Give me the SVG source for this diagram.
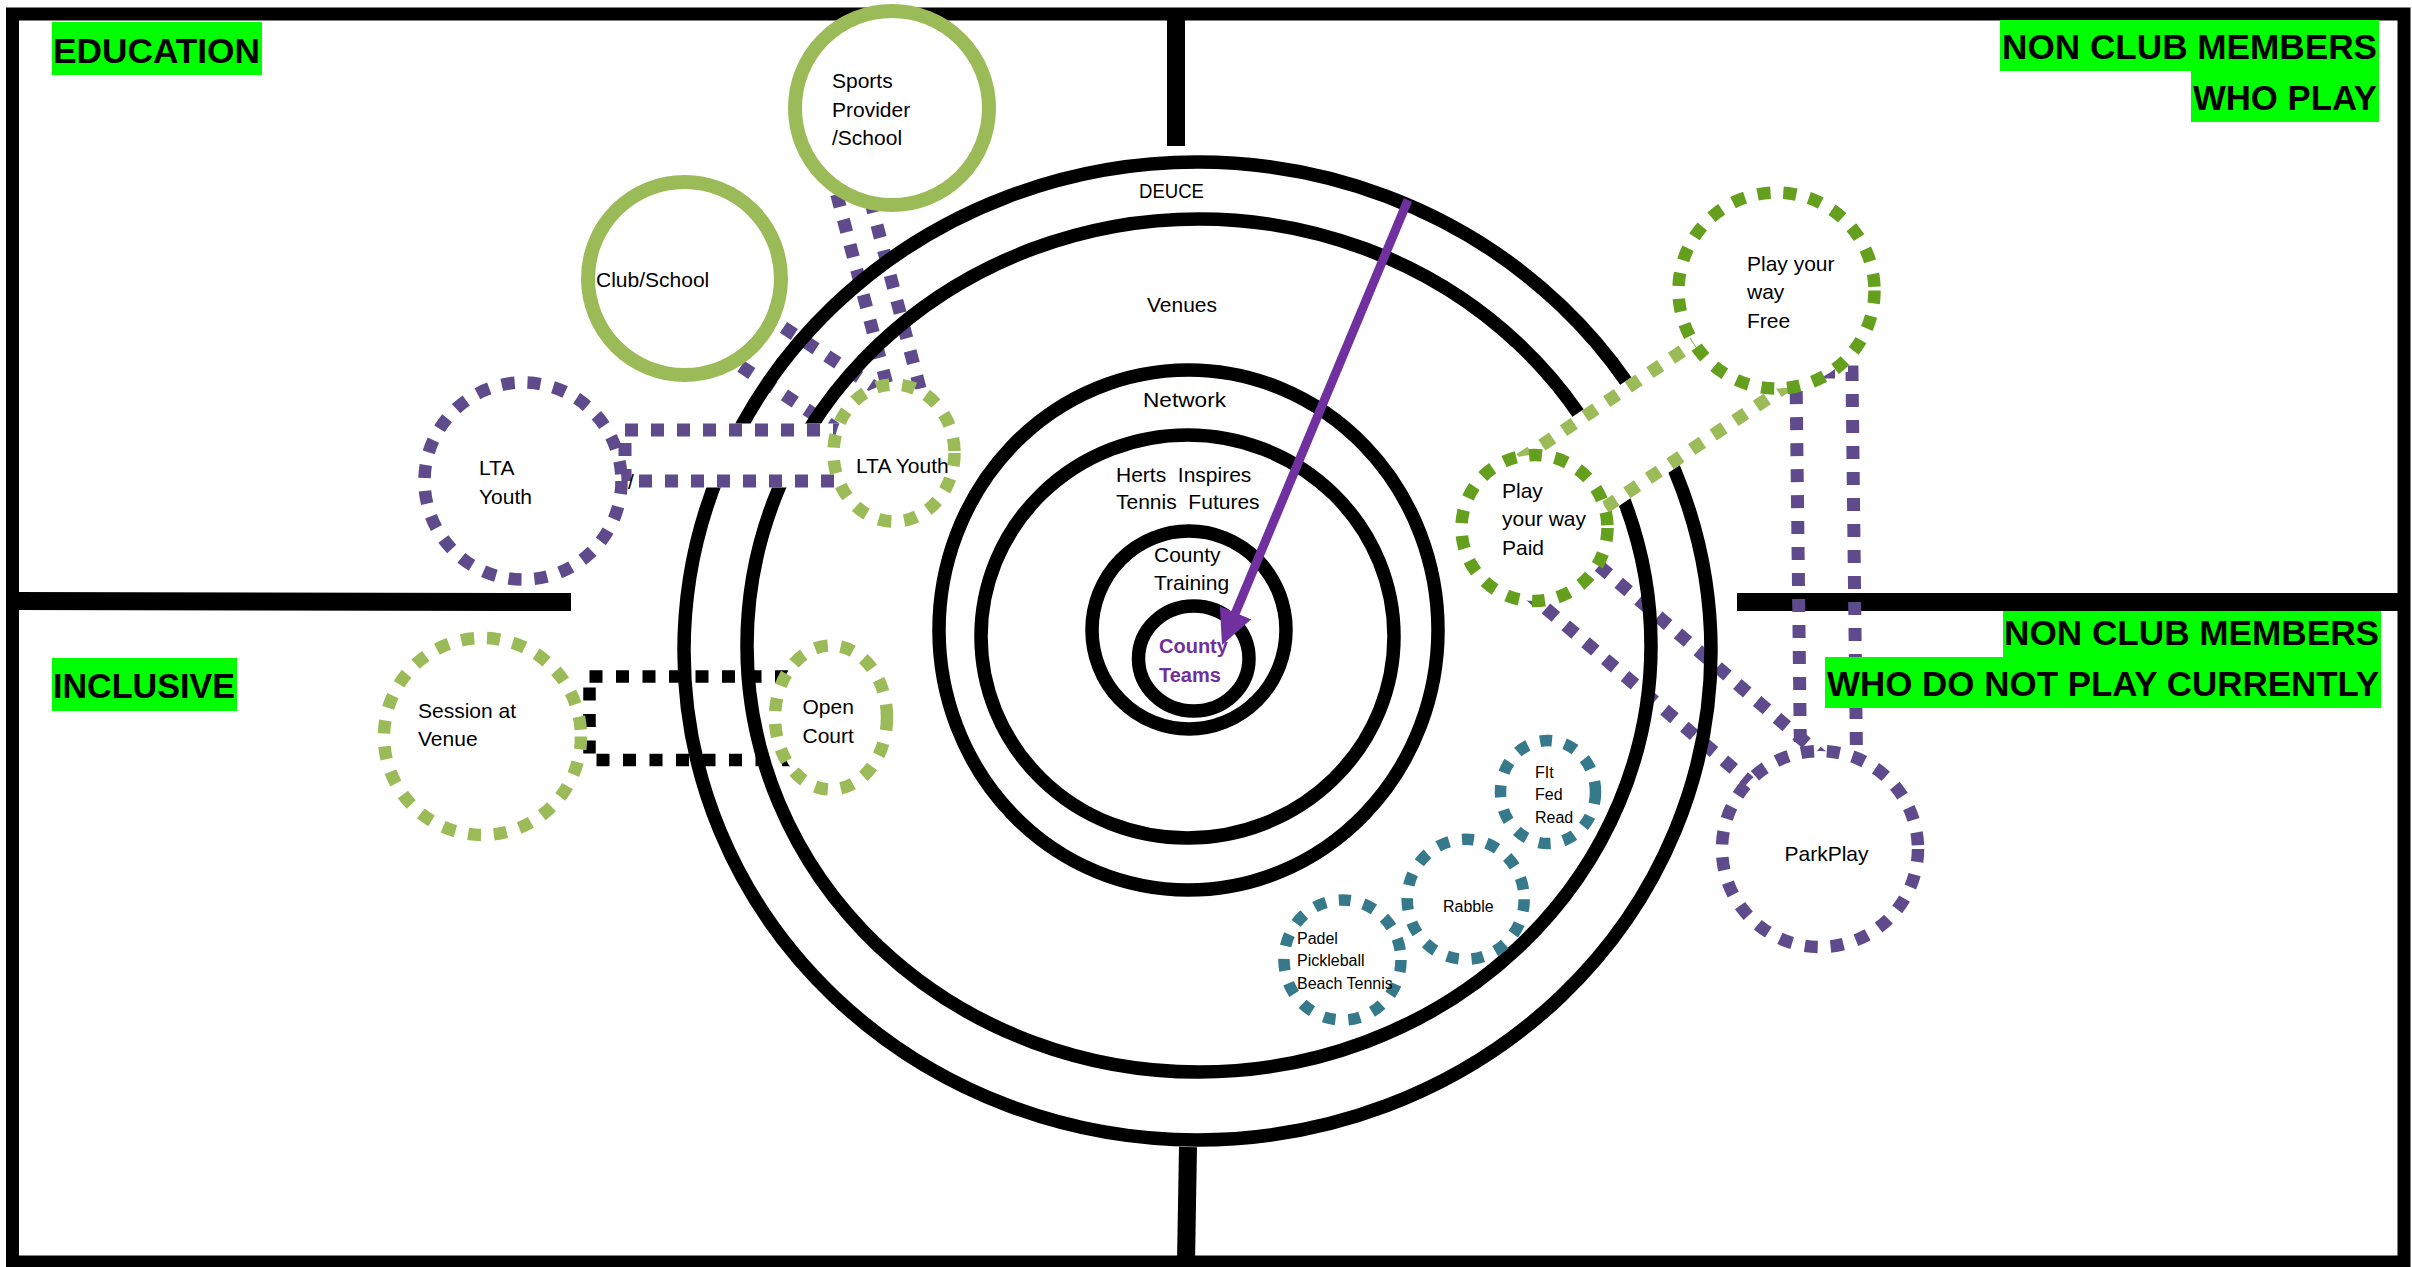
<svg xmlns="http://www.w3.org/2000/svg" width="2412" height="1267" viewBox="0 0 2412 1267">
<defs>
<style>
.frame{fill:none;stroke:#000;stroke-width:13}
.div{stroke:#000;stroke-width:18;fill:none}
.ring{fill:none;stroke:#000;stroke-width:13.5}
.pband{fill:none;stroke:#5F4B8B;stroke-width:13;stroke-dasharray:13 13}
.pfill{fill:#fff;stroke:#fff;stroke-width:13}
.pdash{fill:none;stroke:#5F4B8B;stroke-width:13;stroke-dasharray:13 13}
.gdash{fill:none;stroke:#9BBB59;stroke-width:13;stroke-dasharray:13 13}
.kdash{fill:none;stroke:#000;stroke-width:12.5;stroke-dasharray:13 13.5}
.solidg{fill:#fff;stroke:#9BBB59;stroke-width:14}
.nlg{fill:#fff;stroke:#9BBB59;stroke-width:12.5;stroke-dasharray:13 13}
.ndg{fill:#fff;stroke:#64A01E;stroke-width:12.5;stroke-dasharray:13 13}
.npu{fill:#fff;stroke:#5F4B8B;stroke-width:12.5;stroke-dasharray:13 13}
.nte{fill:#fff;stroke:#36798B;stroke-width:11.5;stroke-dasharray:12 13}
.t{font-family:'Liberation Sans',Arial,sans-serif;font-size:21px;fill:#000}
.ts{font-family:'Liberation Sans',Arial,sans-serif;font-size:16px;fill:#000}
.ct{font-family:'Liberation Sans',Arial,sans-serif;font-size:20px;font-weight:bold;fill:#7030A0}
.hdr{font-family:'Liberation Sans',Arial,sans-serif;font-size:35px;font-weight:bold;fill:#000}
.lab{fill:#00FF00}
</style>
<marker id="ah" markerUnits="userSpaceOnUse" viewBox="0 0 35 34" markerWidth="35" markerHeight="34" refX="5" refY="17" orient="auto">
<path d="M0,0 L35,17 L0,34 Z" fill="#7030A0"/>
</marker>
</defs>
<rect x="0" y="0" width="2412" height="1267" fill="#fff"/>

<g id="frame">
<rect class="frame" x="12.5" y="14" width="2391.5" height="1248"/>
<line class="div" x1="1176" y1="14" x2="1176" y2="146"/>
<line class="div" x1="1188" y1="1147" x2="1186" y2="1262"/>
<line class="div" x1="12" y1="601" x2="571" y2="602"/>
<line class="div" x1="1737" y1="602" x2="2404" y2="602"/>
</g>

<g id="connectors-back">
<path class="pband" d="M830.1,169.2 L892.6,406.1 L922.6,398.2 L860.1,161.3 Z"/>
<path class="pband" d="M740,298.8 L890,397.3 L859.3,444.1 L709.3,345.6 Z"/>
<path class="pband" d="M1559.4,532.1 L1830.7,763.8 L1787.3,814.6 L1516,582.9 Z"/>
</g>

<g id="target">
<ellipse class="ring" cx="1197.5" cy="651" rx="513.5" ry="489"/>
<ellipse class="ring" cx="1199" cy="645.5" rx="452" ry="426.5"/>
<ellipse class="ring" cx="1188.5" cy="630" rx="249.5" ry="260"/>
<ellipse class="ring" cx="1187.5" cy="636.5" rx="206.5" ry="201.5"/>
<ellipse class="ring" cx="1189" cy="630" rx="97" ry="99"/>
<ellipse class="ring" cx="1193.75" cy="658.5" rx="55.25" ry="52.5"/>
<text class="t" x="1139" y="198" textLength="65" lengthAdjust="spacingAndGlyphs">DEUCE</text>
<text class="t" x="1147" y="312" textLength="70" lengthAdjust="spacingAndGlyphs">Venues</text>
<text class="t" x="1143" y="407" textLength="83" lengthAdjust="spacingAndGlyphs">Network</text>
<text class="t" x="1116" y="482" xml:space="preserve">Herts  Inspires</text>
<text class="t" x="1116" y="509" xml:space="preserve">Tennis  Futures</text>
<text class="t" x="1154" y="562">County</text>
<text class="t" x="1154" y="590">Training</text>
<text class="ct" x="1159" y="653">County</text>
<text class="ct" x="1159" y="682">Teams</text>
</g>

<g id="connectors-front">
<rect class="pfill" x="625" y="430" width="235" height="51"/>
<rect class="pdash" x="625" y="430" width="235" height="51"/>
<text class="t" x="628" y="489" font-size="20">/</text>
<rect class="kdash" x="589.5" y="676.5" width="220" height="83.5"/>
<path class="pband" d="M1796,372 L1852,372 L1857,800 L1801,800 Z"/>
<g transform="translate(1583.5,469.5) rotate(-33.8)">
<rect class="pfill" x="-73" y="-43.5" width="323" height="87"/>
<rect class="gdash" x="-73" y="-43.5" width="323" height="87"/>
</g>
</g>

<g id="node-sports-provider">
<circle class="solidg" cx="892" cy="108" r="97"/>
<text class="t" x="832" y="88">Sports</text>
<text class="t" x="832" y="117">Provider</text>
<text class="t" x="832" y="145">/School</text>
</g>
<g id="node-club-school">
<circle class="solidg" cx="684.5" cy="278.5" r="96.5"/>
<text class="t" x="596" y="287">Club/School</text>
</g>
<g id="node-lta-youth-left">
<circle class="npu" cx="523" cy="481" r="98.5"/>
<text class="t" x="479" y="475">LTA</text>
<text class="t" x="479" y="503.5">Youth</text>
</g>
<g id="node-lta-youth-right">
<ellipse class="nlg" cx="894" cy="453" rx="60.5" ry="68.5"/>
<text class="t" x="856" y="473">LTA Youth</text>
</g>
<g id="node-session-at-venue">
<circle class="nlg" cx="482.5" cy="736.5" r="98.5"/>
<text class="t" x="418" y="718">Session at</text>
<text class="t" x="418" y="746">Venue</text>
</g>
<g id="node-open-court">
<ellipse class="nlg" cx="831" cy="717.5" rx="56" ry="72"/>
<text class="t" x="802.5" y="713.5">Open</text>
<text class="t" x="802.5" y="743">Court</text>
</g>
<g id="node-play-free">
<circle class="ndg" cx="1776.5" cy="290.5" r="98"/>
<text class="t" x="1747" y="271">Play your</text>
<text class="t" x="1747" y="299">way</text>
<text class="t" x="1747" y="328">Free</text>
</g>
<g id="node-play-paid">
<circle class="ndg" cx="1534.5" cy="528" r="73"/>
<text class="t" x="1502" y="497.5">Play</text>
<text class="t" x="1502" y="526">your way</text>
<text class="t" x="1502" y="554.5">Paid</text>
</g>
<g id="node-parkplay">
<circle class="npu" cx="1820" cy="849" r="98"/>
<text class="t" x="1784.5" y="860.5" font-size="20.5">ParkPlay</text>
</g>
<g id="node-fit-fed-read">
<ellipse class="nte" cx="1548" cy="792" rx="47.5" ry="51.5"/>
<text class="ts" x="1535" y="778">FIt</text>
<text class="ts" x="1535" y="800">Fed</text>
<text class="ts" x="1535" y="822.5">Read</text>
</g>
<g id="node-rabble">
<ellipse class="nte" cx="1465.7" cy="899.3" rx="58.5" ry="60"/>
<text class="ts" x="1443" y="912">Rabble</text>
</g>
<g id="node-padel">
<ellipse class="nte" cx="1342.5" cy="960" rx="58.5" ry="60"/>
<text class="ts" x="1297" y="944">Padel</text>
<text class="ts" x="1297" y="966">Pickleball</text>
<text class="ts" x="1297" y="988.5">Beach Tennis</text>
</g>

<g id="arrow">
<line x1="1408" y1="200" x2="1233.6" y2="617.3" stroke="#7030A0" stroke-width="9" marker-end="url(#ah)"/>
</g>

<g id="labels">
<rect class="lab" x="52" y="22" width="210" height="53"/>
<text class="hdr" x="53" y="63" textLength="207" lengthAdjust="spacingAndGlyphs">EDUCATION</text>
<rect class="lab" x="2000" y="20" width="379" height="51"/>
<rect class="lab" x="2191" y="70" width="188" height="52"/>
<text class="hdr" x="2002" y="59" textLength="375" lengthAdjust="spacingAndGlyphs">NON CLUB MEMBERS</text>
<text class="hdr" x="2193" y="110" textLength="184" lengthAdjust="spacingAndGlyphs">WHO PLAY</text>
<rect class="lab" x="52" y="658" width="185" height="53"/>
<text class="hdr" x="53" y="698" textLength="182" lengthAdjust="spacingAndGlyphs">INCLUSIVE</text>
<rect class="lab" x="2003" y="611" width="378" height="47"/>
<rect class="lab" x="1825" y="657" width="556" height="51"/>
<text class="hdr" x="2004" y="645" textLength="375" lengthAdjust="spacingAndGlyphs">NON CLUB MEMBERS</text>
<text class="hdr" x="1827" y="696" textLength="552" lengthAdjust="spacingAndGlyphs">WHO DO NOT PLAY CURRENTLY</text>
</g>
</svg>
